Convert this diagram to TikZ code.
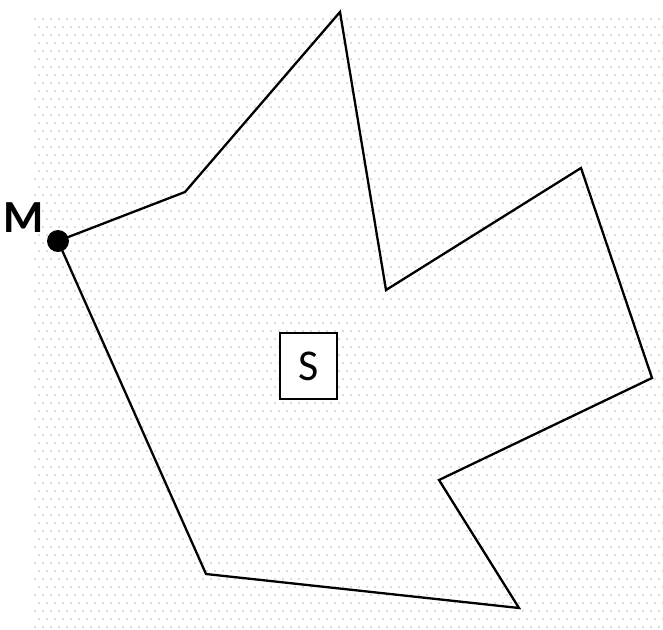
\documentclass[tikz,border=0pt]{standalone}
\usepackage{fontspec}
\setmainfont{Carlito}
\begin{document}
\begin{tikzpicture}[x=1pt,y=-1pt,
  edge/.style={line width=2.3pt,line join=miter},
  bgdot/.style={fill=black!14},
  sbox/.style={draw,line width=1.3pt,minimum width=57pt,minimum height=66pt,inner sep=0pt,font=\fontsize{44}{44}\selectfont},
  mlabel/.style={font=\bfseries\fontsize{46}{46}\selectfont,inner sep=0pt}]
\useasboundingbox (0,0) rectangle (663,629);
\foreach \i in {0,...,78}{
  \foreach \j in {0,...,76}{
    \pgfmathsetmacro{\xx}{34+8*\i+mod(\j,2)*4}
    \pgfmathsetmacro{\yy}{18+8*\j}
    \fill[bgdot] (\xx,\yy) rectangle ++(2.4,2.4);
  }
}
\coordinate (M) at (58,241);
\coordinate (p1) at (185,192);
\coordinate (p2) at (340,12);
\coordinate (p3) at (386,290);
\coordinate (p4) at (581,168);
\coordinate (p5) at (652,378);
\coordinate (p6) at (439,480);
\coordinate (p7) at (519,608);
\coordinate (p8) at (206,574);
\draw[edge] (M) -- (p1) -- (p2) -- (p3) -- (p4) -- (p5) -- (p6) -- (p7) -- (p8) -- cycle;
\fill (M) circle (11);
\node[mlabel] (Mlab) at (23.5,218) {M};
\node[sbox,fill=white] (S) at (308.5,366) {S};
\end{tikzpicture}
\end{document}
